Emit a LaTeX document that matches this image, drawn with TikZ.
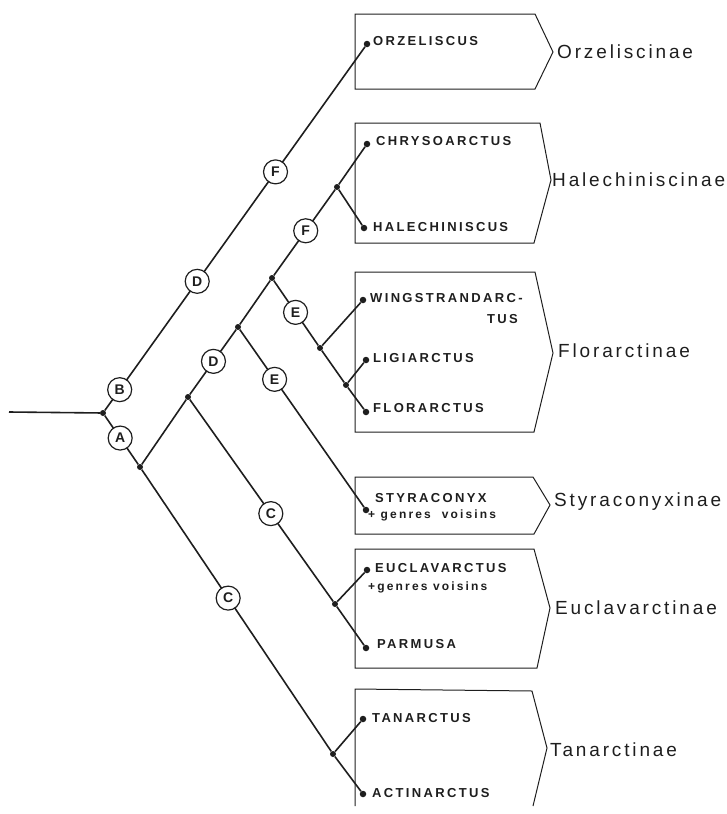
\documentclass[tikz,border=0pt]{standalone}
\usepackage{fontspec}
\setmainfont{Liberation Sans}
\newfontfamily\taxfont{Liberation Sans Bold}[LetterSpace=18]
\newfontfamily\famfont{Liberation Sans}[LetterSpace=15]
\newfontfamily\circfont{Liberation Sans Bold}
\definecolor{ink}{HTML}{1E1E1E}
\begin{document}
\begin{tikzpicture}[x=1pt,y=-1pt,
  dot/.style={circle,fill=ink,inner sep=0,minimum size=6.5pt},
  jn/.style={circle,fill=ink,inner sep=0,minimum size=6pt},
  lab/.style={circle,draw=ink,fill=white,line width=1.2pt,inner sep=0,minimum size=24pt,
    font=\circfont\fontsize{14}{14}\selectfont,text=ink},
  tax/.style={anchor=base west,inner sep=0,text=ink,
    font=\taxfont\fontsize{13}{15}\selectfont},
  taxs/.style={anchor=base west,inner sep=0,text=ink,
    font=\taxfont\fontsize{12}{14}\selectfont},
  fam/.style={anchor=west,inner sep=0,text=ink,
    font=\famfont\fontsize{19}{21}\selectfont},
  box/.style={draw=ink,line width=1pt},
  branch/.style={draw=ink,line width=1.6pt}]
\useasboundingbox (0,0) rectangle (727,814);

% boxes
\draw[box] (355,14) -- (535,14) -- (553,52) -- (535,89) -- (355,89) -- cycle;
\draw[box] (355,123) -- (540,123) -- (551,180) -- (534,243) -- (355,243) -- cycle;
\draw[box] (355,272) -- (535,272) -- (553,353) -- (534,432) -- (355,432) -- cycle;
\draw[box] (355,477) -- (533,477) -- (550,505) -- (534,534) -- (355,534) -- cycle;
\draw[box] (355,549) -- (534,549) -- (550,608) -- (537,668) -- (355,668) -- cycle;
\draw[box] (355,806) -- (355,689) -- (532,691) -- (547,748) -- (533,806);

% internal junctions
\node[jn] (root) at (103,413) {};
\node[jn] (nA) at (140,467) {};
\node[jn] (nC) at (188,397) {};
\node[jn] (nD) at (238,327) {};
\node[jn] (nE) at (272,278) {};
\node[jn] (nF) at (337,187) {};
\node[jn] (nW) at (320,348) {};
\node[jn] (nL) at (346,385) {};
\node[jn] (nEu) at (335,604) {};
\node[jn] (nT) at (333,754) {};

% leaves
\node[dot] (orz) at (367,44) {};
\node[dot] (chr) at (367,144) {};
\node[dot] (hal) at (364,228) {};
\node[dot] (win) at (363,300) {};
\node[dot] (lig) at (366,360) {};
\node[dot] (flo) at (366,412) {};
\node[dot] (sty) at (366,510) {};
\node[dot] (euc) at (367,570) {};
\node[dot] (par) at (366,648) {};
\node[dot] (tan) at (363,719) {};
\node[dot] (act) at (363,794) {};

\coordinate (start) at (9,412);

% branches
\draw[branch] (start) -- (root);
\draw[branch] (root) -- node[lab,pos=0.057]{B} node[lab,pos=0.355]{D} node[lab,pos=0.656]{F} (orz);
\draw[branch] (root) -- node[lab,pos=0.46]{A} (nA);
\draw[branch] (nA) -- (nC);
\draw[branch] (nA) -- node[lab,pos=0.456]{C} (nT);
\draw[branch] (nC) -- node[lab,pos=0.51]{D} (nD);
\draw[branch] (nC) -- node[lab,pos=0.565]{C} (nEu);
\draw[branch] (nD) -- (nE);
\draw[branch] (nD) -- node[lab,pos=0.28]{E} (sty);
\draw[branch] (nE) -- node[lab,pos=0.52]{F} (nF);
\draw[branch] (nE) -- node[lab,pos=0.49]{E} (nW);
\draw[branch] (nF) -- (chr);
\draw[branch] (nF) -- (hal);
\draw[branch] (nW) -- (win);
\draw[branch] (nW) -- (nL);
\draw[branch] (nL) -- (lig);
\draw[branch] (nL) -- (flo);
\draw[branch] (nEu) -- (euc);
\draw[branch] (nEu) -- (par);
\draw[branch] (nT) -- (tan);
\draw[branch] (nT) -- (act);

% taxon names
\node[tax] (tOrz) at (373,45) {ORZELISCUS};
\node[tax] (tChr) at (376,145) {CHRYSOARCTUS};
\node[tax] (tHal) at (373,231) {HALECHINISCUS};
\node[tax] (tWin) at (370,302) {WINGSTRANDARC-};
\node[tax,anchor=base east] (tWin2) at (518,323) {TUS};
\node[tax] (tLig) at (373,362) {LIGIARCTUS};
\node[tax] (tFlo) at (373,412) {FLORARCTUS};
\node[tax] (tSty) at (375,502) {STYRACONYX};
\node[taxs] (tSty2) at (368,518) {+ genres\ \ voisins};
\node[tax] (tEuc) at (375,572) {EUCLAVARCTUS};
\node[taxs] (tEuc2) at (368,590) {+genres voisins};
\node[tax] (tPar) at (377,648) {PARMUSA};
\node[tax] (tTan) at (372,722) {TANARCTUS};
\node[tax] (tAct) at (372,797) {ACTINARCTUS};

% family names
\node[fam] (fOrz) at (557,52) {Orzeliscinae};
\node[fam] (fHal) at (552,180) {Halechiniscinae};
\node[fam] (fFlo) at (558,351) {Florarctinae};
\node[fam] (fSty) at (554,502) {Styraconyxinae};
\node[fam] (fEuc) at (555,608) {Euclavarctinae};
\node[fam] (fTan) at (550,750) {Tanarctinae};
\end{tikzpicture}
\end{document}
